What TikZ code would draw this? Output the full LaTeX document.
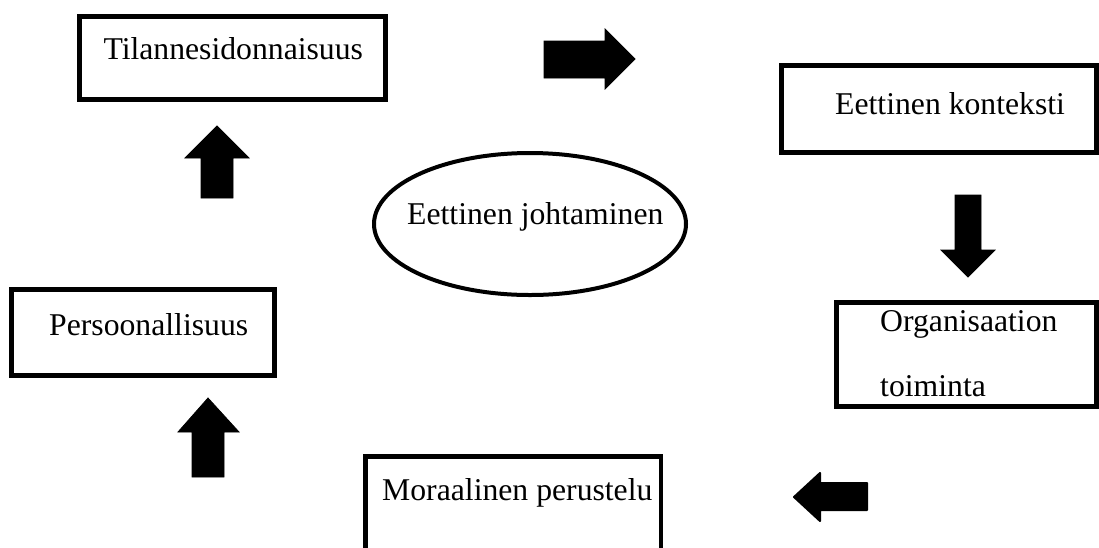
\documentclass[tikz,border=0pt]{standalone}
\usepackage{fontspec}
\setmainfont{Liberation Serif}
\usetikzlibrary{shapes.geometric}
\begin{document}
\begin{tikzpicture}[x=1pt,y=-1pt,
  box/.style={draw=black, line width=4.7pt, rectangle, inner sep=0pt},
  oval/.style={draw=black, line width=4pt, ellipse, inner sep=0pt},
  lbl/.style={anchor=base west, inner sep=0pt, font=\fontsize{31.7}{38}\selectfont},
  blockarrow/.style={fill=black, draw=black, line width=0.8pt, line join=miter},
  roundarrow/.style={fill=black, draw=black, line width=2pt, line join=round}]
\useasboundingbox (0,0) rectangle (1099,547);
\fill[white] (0,0) rectangle (1099,547);

% boxes
\node[box, minimum width=306.2pt, minimum height=83.2pt] (b1) at (232.5,58) {};
\node[box, minimum width=315.2pt, minimum height=87.2pt] (b2) at (939,109) {};
\node[box, minimum width=263.2pt, minimum height=86.2pt] (b3) at (143,332.5) {};
\node[box, minimum width=260.2pt, minimum height=104.2pt] (b4) at (966.5,354.5) {};
\node[box, minimum width=295.6pt, minimum height=103.6pt] (b5) at (513.2,508.2) {};
\node[oval, minimum width=312pt, minimum height=142pt] (e) at (530,224) {};

% texts
\node[lbl] (t1) at (103.3,59) {Tilannesidonnaisuus};
\node[lbl] (t2) at (835,114) {Eettinen konteksti};
\node[lbl] (t3) at (49,335) {Persoonallisuus};
\node[lbl] (t4a) at (880,331) {Organisaation};
\node[lbl] (t4b) at (880,396) {toiminta};
\node[lbl] (t5) at (382,500) {Moraalinen perustelu};
\node[lbl] (te) at (407,224) {Eettinen johtaminen};

% block arrows
\filldraw[blockarrow] (544,41) -- (605,41) -- (605,29) -- (635,59) -- (605,89) -- (605,78) -- (544,78) -- cycle;
\filldraw[blockarrow] (201,198) -- (201,158) -- (185,158) -- (217,126) -- (249,158) -- (233,158) -- (233,198) -- cycle;
\filldraw[blockarrow] (955,195) -- (981,195) -- (981,250) -- (995,250) -- (968,277) -- (941,250) -- (955,250) -- cycle;
\filldraw[blockarrow] (192,477) -- (192,432) -- (178,432) -- (208,398) -- (239,432) -- (224,432) -- (224,477) -- cycle;
\filldraw[roundarrow] (867,483) -- (820,483) -- (820,473) -- (794,497) -- (820,521) -- (820,510) -- (867,510) -- cycle;
\end{tikzpicture}
\end{document}
